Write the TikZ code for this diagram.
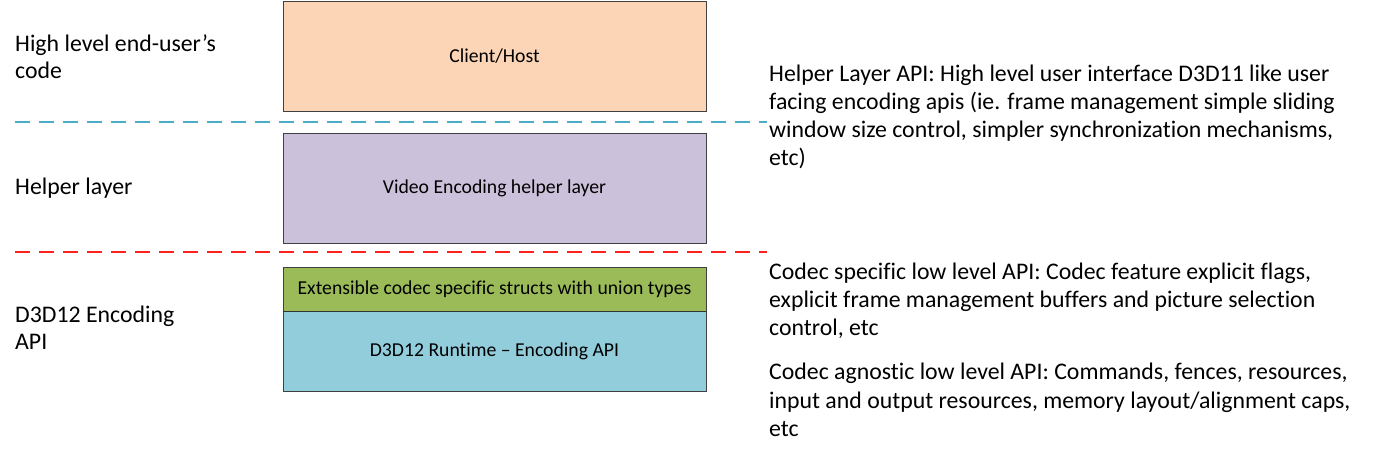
\documentclass[tikz,border=0pt]{standalone}
\usepackage{fontspec}
\setmainfont{Carlito}[Ligatures=NoCommon]
\begin{document}
\begin{tikzpicture}[x=1pt,y=-1pt,
  box/.style={draw=black!75, line width=0.8pt, minimum width=423pt, inner sep=0pt, font=\fontsize{19.7}{23}\selectfont},
  lbl/.style={anchor=west, align=left, inner sep=0pt, font=\fontsize{23.8}{27}\selectfont},
  rlbl/.style={anchor=west, align=left, inner sep=0pt, font=\fontsize{23.8}{28.2}\selectfont},
  sep/.style={line width=1.6pt, dash pattern=on 15pt off 9pt}]
\useasboundingbox (0,0) rectangle (1374,455);
\definecolor{peach}{HTML}{FBD5B5}
\definecolor{lilac}{HTML}{CCC1DA}
\definecolor{olive}{HTML}{9BBB59}
\definecolor{aqua}{HTML}{92CDDC}
\definecolor{sepblue}{HTML}{4BACC6}
\definecolor{sepred}{HTML}{FF2020}
\node[box, fill=peach, minimum height=110pt] (client) at (494.5,56) {Client/Host};
\node[box, fill=lilac, minimum height=110pt] (helper) at (494.5,188) {Video Encoding helper layer};
\node[box, fill=olive, minimum height=44pt] (codec) at (494.5,289) {Extensible codec specific structs with union types};
\node[box, fill=aqua, minimum height=80pt] (runtime) at (494.5,351) {D3D12 Runtime -- Encoding API};
\draw[black!80, line width=1.4pt] (codec.south west) -- (codec.south east);
\coordinate (b1) at (15,122); \coordinate (b2) at (767,122);
\coordinate (r1) at (15,252); \coordinate (r2) at (767,252);
\draw[sep, sepblue] (b1) -- (b2);
\draw[sep, sepred] (r1) -- (r2);
\node[lbl] (l1) at (15,57) {High level end-user’s\\code};
\node[lbl] (l2) at (15,188) {Helper layer};
\node[lbl] (l3) at (15,328) {D3D12 Encoding\\API};
\node[rlbl] (t1) at (769,117) {Helper Layer API: High level user interface D3D11 like user\\facing encoding apis (ie. frame management simple sliding\\window size control, simpler synchronization mechanisms,\\etc)};
\node[rlbl] (t2) at (769,301) {Codec specific low level API: Codec feature explicit flags,\\explicit frame management buffers and picture selection\\control, etc};
\node[rlbl] (t3) at (769,400) {Codec agnostic low level API: Commands, fences, resources,\\input and output resources, memory layout/alignment caps,\\etc};
\end{tikzpicture}
\end{document}
